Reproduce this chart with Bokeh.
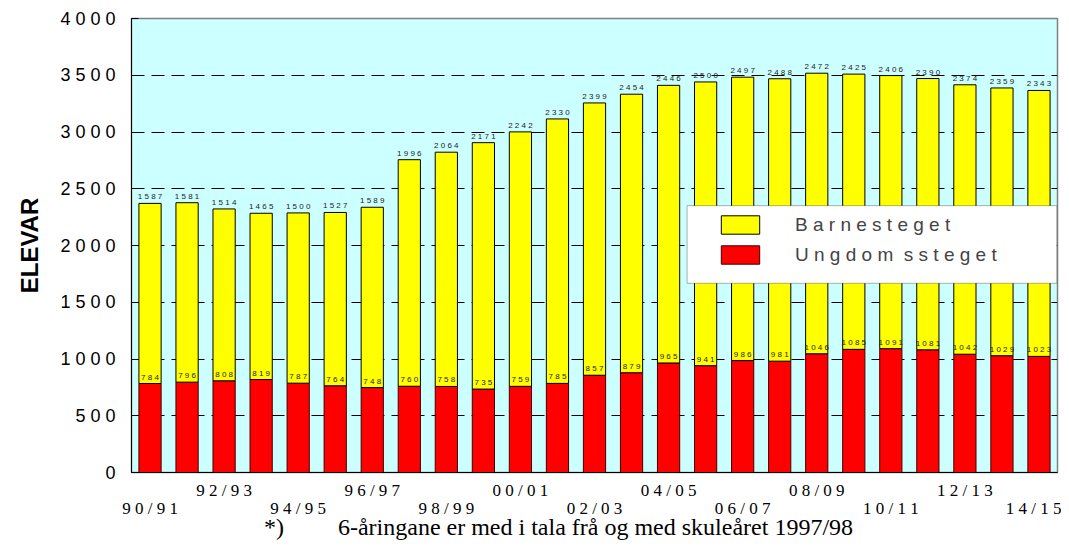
from bokeh.plotting import figure
from bokeh.models import (ColumnDataSource, Range1d, FixedTicker, LinearAxis, Legend,
                          LegendItem, BoxAnnotation)
from bokeh.core.properties import value
from bokeh.embed import file_html
from bokeh.resources import INLINE

years = ["90/91", "91/92", "92/93", "93/94", "94/95", "95/96", "96/97", "97/98", "98/99", "99/00",
         "00/01", "01/02", "02/03", "03/04", "04/05", "05/06", "06/07", "07/08", "08/09", "09/10",
         "10/11", "11/12", "12/13", "13/14", "14/15"]
barnesteget = [1587, 1581, 1514, 1465, 1500, 1527, 1589, 1996, 2064, 2171, 2242, 2330, 2399, 2454,
               2446, 2500, 2497, 2488, 2472, 2425, 2406, 2390, 2374, 2359, 2343]
ungdomssteget = [784, 796, 808, 819, 787, 764, 748, 760, 758, 735, 759, 785, 857, 879, 965, 941,
                 986, 981, 1046, 1085, 1091, 1081, 1042, 1029, 1023]
y_ticks = [0, 500, 1000, 1500, 2000, 2500, 3000, 3500, 4000]
footnote = "6-åringane er med i tala frå og med skuleåret 1997/98"


def spaced(s):
    return " ".join(str(s))


xs = list(range(len(years)))
totals = [u + b for u, b in zip(ungdomssteget, barnesteget)]
src = ColumnDataSource(dict(
    x=xs, ung=ungdomssteget, barne=barnesteget, total=totals,
    ung_lbl=[spaced(v) for v in ungdomssteget],
    barne_lbl=[spaced(v) for v in barnesteget],
))

p = figure(width=1061, height=542, output_backend="svg", toolbar_location=None,
           x_axis_type=None, x_range=Range1d(-0.5, len(years) - 0.5), y_range=Range1d(0, 4000),
           min_border_left=131, min_border_right=4, min_border_top=18, min_border_bottom=0)
p.background_fill_color = "#CCFFFF"
p.border_fill_color = "white"
p.outline_line_color = "#808080"
p.outline_line_width = 1.5

# y axis
ya = p.yaxis[0]
ya.ticker = FixedTicker(ticks=y_ticks)
ya.major_label_overrides = {t: spaced(t) for t in y_ticks}
ya.major_label_text_font = "Liberation Sans"
ya.major_label_text_font_size = "18px"
ya.major_label_text_color = "black"
ya.major_label_standoff = 16
ya.major_tick_in = 7
ya.major_tick_out = 0
ya.minor_tick_line_color = None
ya.axis_line_color = "black"
ya.axis_label = "ELEVAR"
ya.axis_label_text_font = "Liberation Sans"
ya.axis_label_text_font_style = "bold"
ya.axis_label_text_font_size = "24px"
ya.axis_label_text_color = "black"
ya.axis_label_standoff = 14

p.ygrid.ticker = FixedTicker(ticks=y_ticks[1:-1])
p.ygrid.grid_line_color = "black"
p.ygrid.grid_line_dash = "13 7"
p.ygrid.grid_line_width = 1

# bars
r_ung = p.vbar(x="x", bottom=0, top="ung", width=0.6, source=src,
               fill_color="#FF0000", line_color="#400000", line_width=1)
r_barne = p.vbar(x="x", bottom="ung", top="total", width=0.6, source=src,
                 fill_color="#FFFF00", line_color="black", line_width=1)

# value labels
p.text(x="x", y="total", text="barne_lbl", source=src, text_align="center",
       text_baseline="bottom", y_offset=-2, text_font=value("Liberation Sans"),
       text_font_size="8px", text_color="#222222")
p.text(x="x", y="ung", text="ung_lbl", source=src, text_align="center",
       text_baseline="bottom", y_offset=-2, text_font=value("Liberation Sans"),
       text_font_size="8px", text_color="#222222")

# x axes (staggered labels)
upper_idx = [i for i in xs if i % 4 == 2]
lower_idx = [i for i in xs if i % 4 == 0]

ax1 = LinearAxis(ticker=FixedTicker(ticks=upper_idx),
                 major_label_overrides={i: spaced(years[i]) for i in upper_idx})
ax2 = LinearAxis(ticker=FixedTicker(ticks=lower_idx),
                 major_label_overrides={i: spaced(years[i]) for i in lower_idx})
for ax, st in ((ax1, 8), (ax2, -4)):
    ax.major_tick_in = 0
    ax.major_tick_out = 0
    ax.minor_tick_line_color = None
    ax.major_tick_line_color = None
    ax.major_label_text_font = "Liberation Serif"
    ax.major_label_text_font_size = "17px"
    ax.major_label_text_color = "black"
    ax.major_label_standoff = st
ax1.axis_line_color = "black"
ax2.axis_line_color = None

# footnote as the lower axis' label (trailing no-break spaces shift it left)
ax2.axis_label = "*)" + "\u00a0" * 9 + footnote + "\u00a0" * 12
ax2.axis_label_text_font = "Liberation Serif"
ax2.axis_label_text_font_size = "24px"
ax2.axis_label_text_font_style = "normal"
ax2.axis_label_text_color = "black"
ax2.axis_label_standoff = -7

p.add_layout(ax1, "below")
p.add_layout(ax2, "below")

# legend box
box = BoxAnnotation(left=14.5, right=24.48, bottom=1667, top=2351,
                    fill_color="white", fill_alpha=1, line_color="black", line_width=1)
p.add_layout(box)

legend = Legend(items=[LegendItem(label="B a r n e s t e g e t", renderers=[r_barne]),
                       LegendItem(label="U n g d o m\u00a0 s s t e g e t", renderers=[r_ung])],
                location=(573, 194), padding=12, spacing=7, glyph_width=48, glyph_height=23,
                label_standoff=31, label_text_font="Liberation Sans", label_text_font_size="19px",
                label_height=18, border_line_alpha=0, background_fill_alpha=0)
p.add_layout(legend)

open("out.html", "w").write(file_html(p, INLINE))
